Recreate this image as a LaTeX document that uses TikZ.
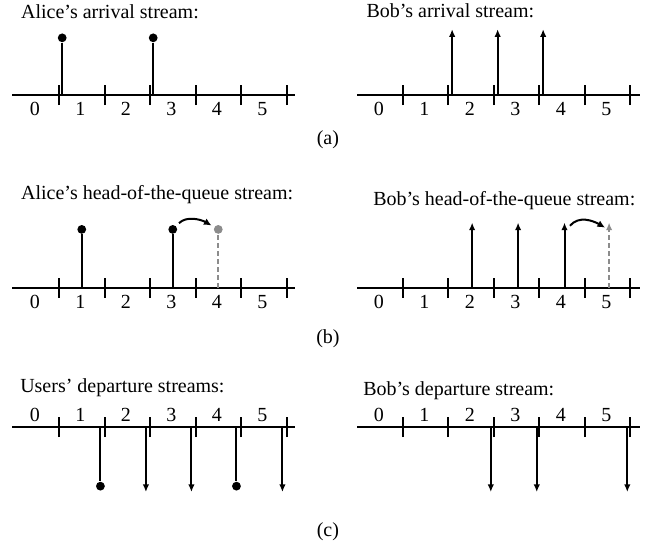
\documentclass[tikz,border=0pt]{standalone}
\usepackage{fontspec}
\setmainfont{Liberation Serif}
\usetikzlibrary{arrows.meta}

\tikzset{
    axisline/.style={line width=1pt},
    slotmark/.style={line width=1pt},
    stem/.style={line width=1pt},
    pulse/.style={line width=1pt, -{Latex[length=3.8pt,width=3.2pt]}},
    headdot/.style={circle, fill=black, inner sep=0pt, minimum size=4.4pt},
    ghostdot/.style={circle, fill=black!45, inner sep=0pt, minimum size=4.4pt},
    ghost/.style={line width=1pt, black!45, dash pattern=on 2.5pt off 1.5pt},
    jump/.style={line width=1pt, -{Latex[length=3.8pt,width=3.6pt]}},
    streamtitle/.style={anchor=base west, inner sep=0pt}
}

\begin{document}
\begin{tikzpicture}[x=0.8cm,y=0.8cm]
    \useasboundingbox (-0.297,0) rectangle (14.077,11.912);

    % (a) Alice's arrival stream
    \begin{scope}[shift={(0,9.82)}]
        \draw[axisline] (-0.03,0) -- (6.19,0);
        \foreach \x in {1,...,6} \draw[slotmark] (\x,-0.22) -- (\x,0.22);
        \foreach \n in {0,...,5} \node (al\n) at (\n+0.47,-0.31) {\n};
        \node[streamtitle] (alt) at (0.16,1.69) {Alice's arrival stream:};
        \coordinate (als1) at (1.07,0);
        \coordinate (als2) at (3.07,0);
        \node[headdot] (alp1) at (1.07,1.26) {};
        \node[headdot] (alp2) at (3.07,1.26) {};
        \draw[stem] (als1) -- (alp1);
        \draw[stem] (als2) -- (alp2);
    \end{scope}

    % (a) Bob's arrival stream
    \begin{scope}[shift={(7.56,9.82)}]
        \draw[axisline] (-0.01,0) -- (6.21,0);
        \foreach \x in {1,...,6} \draw[slotmark] (\x,-0.22) -- (\x,0.22);
        \foreach \n in {0,...,5} \node (ba\n) at (\n+0.47,-0.31) {\n};
        \node[streamtitle] (bat) at (0.19,1.70) {Bob's arrival stream:};
        \coordinate (bas1) at (2.08,0);
        \coordinate (bas2) at (3.08,0);
        \coordinate (bas3) at (4.08,0);
        \coordinate (bap1) at (2.08,1.45);
        \coordinate (bap2) at (3.08,1.45);
        \coordinate (bap3) at (4.08,1.45);
        \draw[pulse] (bas1) -- (bap1);
        \draw[pulse] (bas2) -- (bap2);
        \draw[pulse] (bas3) -- (bap3);
    \end{scope}

    \node (laba) at (6.91,8.835) {(a)};

    % (b) Alice's head-of-the-queue stream
    \begin{scope}[shift={(0,5.59)}]
        \draw[axisline] (-0.03,0) -- (6.19,0);
        \foreach \x in {1,...,6} \draw[slotmark] (\x,-0.22) -- (\x,0.22);
        \foreach \n in {0,...,5} \node (ah\n) at (\n+0.47,-0.31) {\n};
        \node[streamtitle] (aht) at (0.16,1.94) {Alice's head-of-the-queue stream:};
        \coordinate (ahs1) at (1.5,0);
        \coordinate (ahs2) at (3.5,0);
        \coordinate (ahs3) at (4.5,0);
        \node[headdot] (ahp1) at (1.5,1.28) {};
        \node[headdot] (ahp2) at (3.5,1.28) {};
        \node[ghostdot] (ahp3) at (4.5,1.28) {};
        \draw[stem] (ahs1) -- (ahp1);
        \draw[stem] (ahs2) -- (ahp2);
        \draw[ghost] (ahs3) -- (ahp3);
        \draw[jump, shorten <=2pt, shorten >=1.5pt] (ahp2) to[out=45,in=150] (ahp3);
    \end{scope}

    % (b) Bob's head-of-the-queue stream
    \begin{scope}[shift={(7.56,5.59)}]
        \draw[axisline] (-0.01,0) -- (6.21,0);
        \foreach \x in {1,...,6} \draw[slotmark] (\x,-0.22) -- (\x,0.22);
        \foreach \n in {0,...,5} \node (bh\n) at (\n+0.47,-0.31) {\n};
        \node[streamtitle] (bht) at (0.34,1.81) {Bob's head-of-the-queue stream:};
        \coordinate (bhs1) at (2.52,0);
        \coordinate (bhs2) at (3.53,0);
        \coordinate (bhs3) at (4.55,0);
        \coordinate (bhs4) at (5.53,0);
        \coordinate (bhp1) at (2.52,1.43);
        \coordinate (bhp2) at (3.53,1.43);
        \coordinate (bhp3) at (4.55,1.43);
        \coordinate (bhp4) at (5.53,1.43);
        \draw[pulse] (bhs1) -- (bhp1);
        \draw[pulse] (bhs2) -- (bhp2);
        \draw[pulse] (bhs3) -- (bhp3);
        \draw[pulse, black!45, dash pattern=on 2.5pt off 1.5pt] (bhs4) -- (bhp4);
        \coordinate (bhj1) at (4.67,1.36);
        \coordinate (bhj2) at (5.44,1.32);
        \draw[jump] (bhj1) to[out=50,in=150] (bhj2);
    \end{scope}

    \node (labb) at (6.91,4.46) {(b)};

    % (c) Users' departure streams
    \begin{scope}[shift={(0,2.527)}]
        \draw[axisline] (-0.03,0) -- (6.19,0);
        \foreach \x in {1,...,6} \draw[slotmark] (\x,-0.22) -- (\x,0.22);
        \foreach \n in {0,...,5} \node (ud\n) at (\n+0.47,0.26) {\n};
        \node[streamtitle] (udt) at (0.14,0.75) {Users' departure streams:};
        \coordinate (uds1) at (1.91,0);
        \coordinate (uds2) at (2.91,0);
        \coordinate (uds3) at (3.91,0);
        \coordinate (uds4) at (4.90,0);
        \coordinate (uds5) at (5.91,0);
        \node[headdot] (udp1) at (1.91,-1.30) {};
        \coordinate (udp2) at (2.91,-1.43);
        \coordinate (udp3) at (3.91,-1.43);
        \node[headdot] (udp4) at (4.90,-1.30) {};
        \coordinate (udp5) at (5.91,-1.43);
        \draw[stem] (uds1) -- (udp1);
        \draw[pulse] (uds2) -- (udp2);
        \draw[pulse] (uds3) -- (udp3);
        \draw[stem] (uds4) -- (udp4);
        \draw[pulse] (uds5) -- (udp5);
    \end{scope}

    % (c) Bob's departure stream
    \begin{scope}[shift={(7.56,2.527)}]
        \draw[axisline] (-0.01,0) -- (6.21,0);
        \foreach \x in {1,...,6} \draw[slotmark] (\x,-0.22) -- (\x,0.22);
        \foreach \n in {0,...,5} \node (bd\n) at (\n+0.47,0.26) {\n};
        \node[streamtitle] (bdt) at (0.12,0.70) {Bob's departure stream:};
        \coordinate (bds1) at (2.93,0);
        \coordinate (bds2) at (3.94,0);
        \coordinate (bds3) at (5.93,0);
        \coordinate (bdp1) at (2.93,-1.43);
        \coordinate (bdp2) at (3.94,-1.43);
        \coordinate (bdp3) at (5.93,-1.43);
        \draw[pulse] (bds1) -- (bdp1);
        \draw[pulse] (bds2) -- (bdp2);
        \draw[pulse] (bds3) -- (bdp3);
    \end{scope}

    \node (labc) at (6.91,0.22) {(c)};
\end{tikzpicture}
\end{document}
